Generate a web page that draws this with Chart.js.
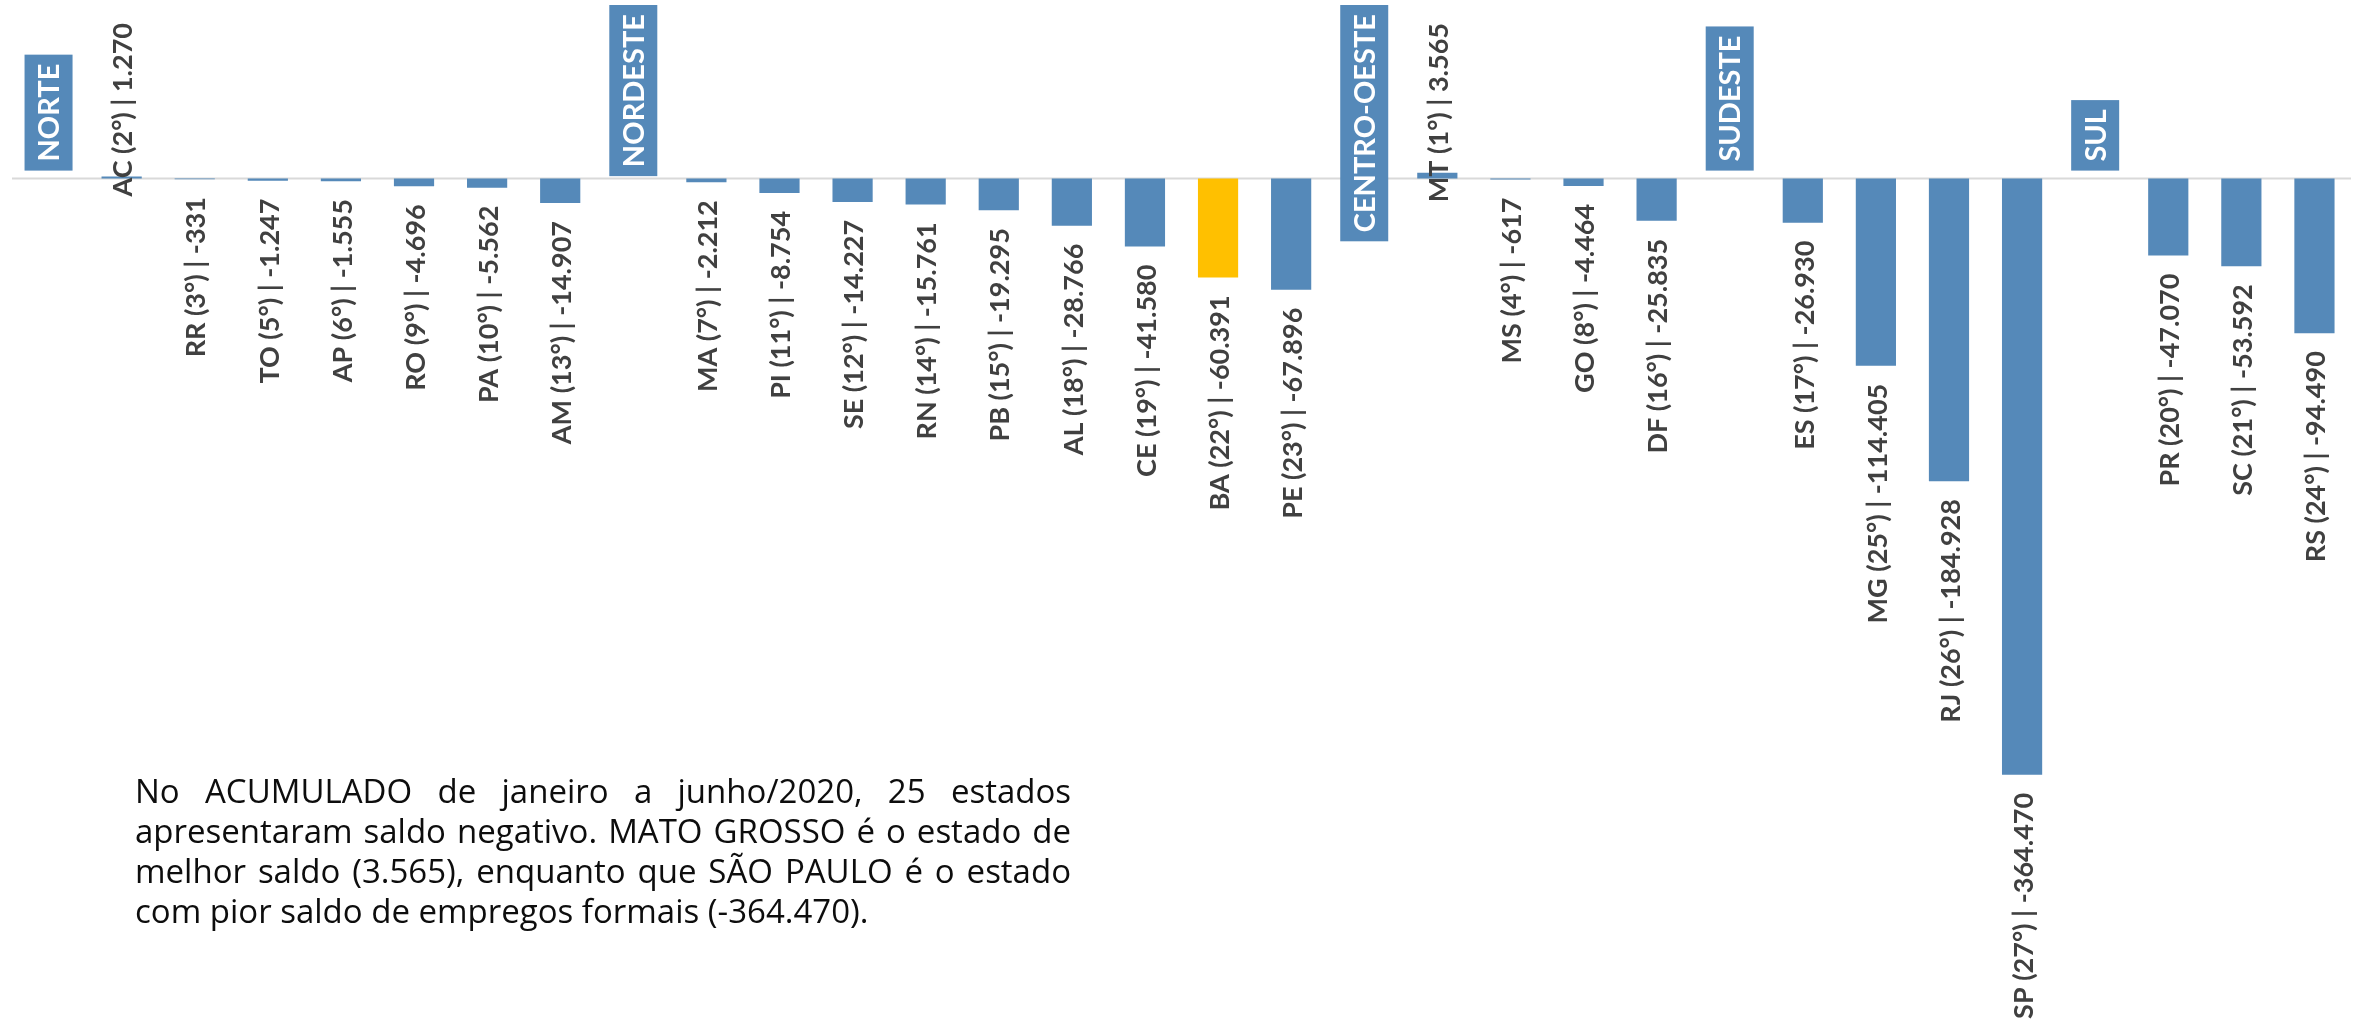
<!DOCTYPE html>
<html>
<head>
<meta charset="utf-8">
<script src="https://cdn.jsdelivr.net/npm/chart.js@4.4.0/dist/chart.umd.min.js"></script>
<style>
body{margin:0;background:#fff}
#wrap{position:relative;width:2358px;height:1030px}
</style>
</head>
<body>
<div id="wrap"><canvas id="grafico"></canvas></div>
<script>
// categorias (regiões entram como posições vazias com um rótulo em caixa)
const categorias=['NORTE','AC','RR','TO','AP','RO','PA','AM',
  'NORDESTE','MA','PI','SE','RN','PB','AL','CE','BA','PE',
  'CENTRO-OESTE','MT','MS','GO','DF',
  'SUDESTE','ES','MG','RJ','SP',
  'SUL','PR','SC','RS']
const regioes=['NORTE','NORDESTE','CENTRO-OESTE','SUDESTE','SUL']
const saldo=[null,1270,-331,-1247,-1555,-4696,-5562,-14907,
  null,-2212,-8754,-14227,-15761,-19295,-28766,-41580,-60391,-67896,
  null,3565,-617,-4464,-25835,
  null,-26930,-114405,-184928,-364470,
  null,-47070,-53592,-94490]
const ranking=[null,2,3,5,6,9,10,13,
  null,7,11,12,14,15,18,19,22,23,
  null,1,4,8,16,
  null,17,25,26,27,
  null,20,21,24]
const destaque='BA'

const nota=[
  'No ACUMULADO de janeiro a junho/2020, 25 estados',
  'apresentaram saldo negativo. MATO GROSSO é o estado de',
  'melhor saldo (3.565), enquanto que SÃO PAULO é o estado',
  'com pior saldo de empregos formais (-364.470).'
]

const azul='#5589b9'
const amarelo='#ffc000'

function fmt(v){
  const s=String(Math.abs(v)).replace(/\B(?=(\d{3})+(?!\d))/g,'.')
  return (v<0?'-':'')+s
}

const rotulos={
  id:'rotulos',
  beforeDatasetsDraw(chart){
    const {ctx,chartArea,scales:{y}}=chart
    const y0=y.getPixelForValue(0)
    ctx.save()
    ctx.strokeStyle='#d9d9d9'
    ctx.lineWidth=2
    ctx.beginPath()
    ctx.moveTo(chartArea.left,y0)
    ctx.lineTo(chartArea.right,y0)
    ctx.stroke()
    ctx.restore()
  },
  afterDatasetsDraw(chart){
    const {ctx,chartArea,scales:{x,y}}=chart
    const y0=y.getPixelForValue(0)
    ctx.save()
    categorias.forEach((c,i)=>{
      const cx=x.getPixelForValue(i)
      if(regioes.includes(c)){
        ctx.font='bold 29px Lato'
        const w=ctx.measureText(c).width
        const len=w+18
        let base=y0-8
        if(base-len<5) base=5+len
        ctx.fillStyle=azul
        ctx.fillRect(cx-24,base-len,48,len)
        ctx.save()
        ctx.translate(cx+1,base-9)
        ctx.rotate(-Math.PI/2)
        ctx.fillStyle='#fff'
        ctx.textAlign='left'
        ctx.textBaseline='middle'
        ctx.fillText(c,0,0)
        ctx.restore()
        return
      }
      const v=saldo[i]
      const txt=`${c} (${ranking[i]}°) | ${fmt(v)}`
      ctx.font='bold 27px Lato'
      const w=ctx.measureText(txt).width
      const yv=y.getPixelForValue(v)
      ctx.save()
      ctx.fillStyle='#404040'
      ctx.textBaseline='middle'
      if(v<0){
        ctx.translate(cx+2,yv+18)
        ctx.rotate(-Math.PI/2)
        ctx.textAlign='right'
      }else{
        let b=yv-6
        if(b-w<chartArea.top) b=chartArea.top+w
        ctx.translate(cx+2,b+8)
        ctx.rotate(-Math.PI/2)
        ctx.textAlign='left'
      }
      ctx.fillText(txt,0,0)
      ctx.restore()
    })
    ctx.restore()
  },
  afterDraw(chart){
    // parágrafo justificado no canto inferior esquerdo
    const ctx=chart.ctx
    const esq=135, larg=936
    ctx.save()
    ctx.font='33px "Open Sans"'
    ctx.fillStyle='#0d0d0d'
    ctx.textAlign='left'
    ctx.textBaseline='alphabetic'
    nota.forEach((linha,k)=>{
      const by=803+k*40
      if(k===nota.length-1){ctx.fillText(linha,esq,by);return}
      const palavras=linha.split(' ')
      const ws=palavras.map(p=>ctx.measureText(p).width)
      const soma=ws.reduce((a,b)=>a+b,0)
      const gap=(larg-soma)/(palavras.length-1)
      let xx=esq
      palavras.forEach((p,j)=>{ctx.fillText(p,xx,by);xx+=ws[j]+gap})
    })
    ctx.restore()
  }
}

new Chart(document.getElementById('grafico'),{
  type:'bar',
  data:{
    labels:categorias,
    datasets:[{
      data:saldo,
      backgroundColor:categorias.map(c=>c===destaque?amarelo:azul),
      barPercentage:0.55,
      categoryPercentage:1
    }]
  },
  options:{
    responsive:true,
    maintainAspectRatio:false,
    animation:false,
    layout:{padding:{left:12,right:7,top:15,bottom:197}},
    plugins:{legend:{display:false},tooltip:{enabled:false}},
    scales:{
      x:{display:false},
      y:{display:false,min:-400000,max:100000}
    }
  },
  plugins:[rotulos]
})
</script>
</body>
</html>
